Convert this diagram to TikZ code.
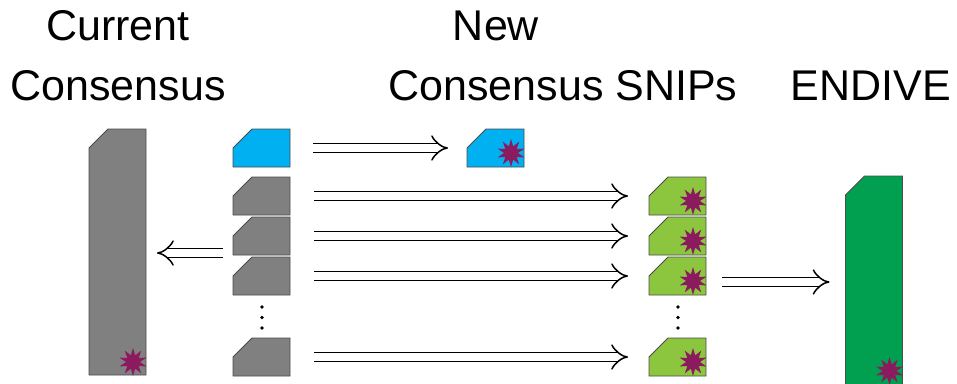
\documentclass[tikz,border=0pt]{standalone}
\usepackage{fontspec}
\setmainfont{Liberation Sans}
\usetikzlibrary{shapes.geometric,arrows.meta}
\definecolor{snipblue}{HTML}{00B0F0}
\definecolor{snipgray}{HTML}{808080}
\definecolor{snipgreen}{HTML}{8CC63F}
\definecolor{endgreen}{HTML}{00A050}
\definecolor{sparkpurple}{HTML}{8B1A5E}

\begin{document}
\begin{tikzpicture}[x=1pt,y=-1pt,
  sq/.style={rectangle, minimum width=57pt, minimum height=38pt,
    inner sep=0pt, outer sep=0pt},
  rim/.style={draw=black!70, line width=0.8pt, line join=miter},
  spark/.style={star, star points=10, star point ratio=2, minimum size=28pt,
    inner sep=0pt, fill=sparkpurple},
  dbl/.style={double, double distance=7.5pt, line width=1.5pt,
    -{Implies[length=11pt, width=22pt]}},
  lbl/.style={align=center, font=\fontsize{43}{60}\selectfont, text depth=0pt,
    anchor=south, inner sep=0pt}]
\clip (0,0) rectangle (957,383);

\node[lbl] (curlbl) at (118,101) {Current\\Consensus};
\node[lbl] (newlbl) at (496,41) {New};
\node[lbl] (snipslbl) at (563,101) {Consensus SNIPs};
\node[lbl] (endlbl) at (871,101) {ENDIVE};

\node[sq, minimum height=246pt] (cur) at (117.5,252) {};
\node[sq] (b0) at (261.5,148) {};
\node[sq] (g1) at (261.5,196) {};
\node[sq] (g2) at (261.5,236) {};
\node[sq] (g3) at (261.5,276) {};
\node[sq] (g4) at (261.5,357) {};

\node[sq] (nb) at (495.5,148) {};
\node[sq] (s1) at (677.5,196) {};
\node[sq] (s2) at (677.5,236) {};
\node[sq] (s3) at (677.5,276) {};
\node[sq] (s4) at (677.5,357) {};

\node[sq, minimum height=254pt] (endive) at (874,303) {};

\foreach \n/\c in {cur/snipgray, b0/snipblue, g1/snipgray, g2/snipgray,
    g3/snipgray, g4/snipgray, nb/snipblue, s1/snipgreen, s2/snipgreen,
    s3/snipgreen, s4/snipgreen, endive/endgreen}
  \draw[rim, fill=\c] (\n.south west) -- ([yshift=-19pt]\n.north west)
    -- ([xshift=19pt]\n.north west) -- (\n.north east) -- (\n.south east) -- cycle;

\foreach \s in {nb,s1,s2,s3,s4}
  \node[spark] (\s-star) at ([xshift=-13pt,yshift=-5pt]\s.east) {};
\node[spark] (cur-star) at ([xshift=-13pt,yshift=13pt]cur.south east) {};
\node[spark] (endive-star) at ([xshift=-13pt,yshift=-195pt]endive.north east) {};

\foreach \y in {307,317.5,328} {
  \fill (262,\y) circle (1.8);
  \fill (678,\y) circle (1.8);
}

\coordinate (la) at (0,253);
\coordinate (ea) at (0,282);
\draw[dbl, shorten <=23pt, shorten >=19pt] (b0.east) -- (nb.west);
\foreach \i in {1,2,3,4}
  \draw[dbl, shorten <=24pt, shorten >=21pt] (g\i.east) -- (s\i.west);
\draw[dbl, shorten <=10pt, shorten >=11pt] (g2.west |- la) -- (cur.east |- la);
\draw[dbl, shorten <=16pt, shorten >=16pt] (s3.east |- ea) -- (endive.west |- ea);
\end{tikzpicture}
\end{document}
